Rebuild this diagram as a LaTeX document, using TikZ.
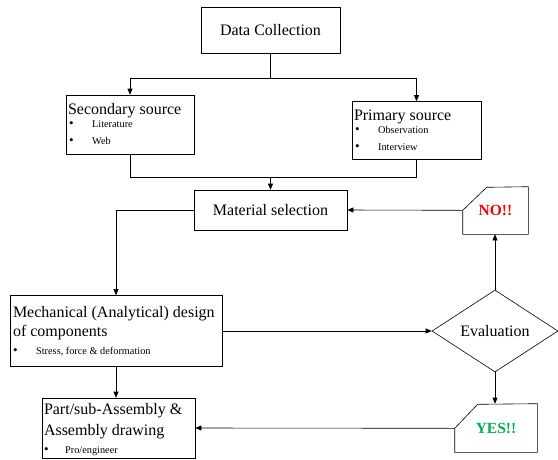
\documentclass[tikz,border=0pt]{standalone}
\usepackage{fontspec}
\setmainfont{Liberation Serif}
\usetikzlibrary{positioning,shapes.geometric,arrows.meta}
\definecolor{yesgreen}{RGB}{0,176,80}

\begin{document}
\begin{tikzpicture}[x=1pt, y=-1pt, line width=0.6pt,
  every node/.style={font=\fontsize{16}{18}\selectfont, inner sep=0pt},
  box/.style={draw, rectangle},
  head/.style={anchor=base west},
  item/.style={font=\fontsize{10.3}{12}\selectfont, anchor=base west},
  dot/.style={font=\fontsize{13}{14}\selectfont, anchor=base west},
  arr/.style={-{Triangle[length=6pt,width=5pt]}}]
  \useasboundingbox (0,0) rectangle (558,459);

  % boxes
  \node[box, minimum width=139pt, minimum height=46pt] (data) at (270.5,30) {Data Collection};
  \node[box, minimum width=128pt, minimum height=59pt] (sec) at (130,124.5) {};
  \node[box, minimum width=129pt, minimum height=58pt] (pri) at (416.5,130.5) {};
  \node[box, minimum width=153pt, minimum height=40pt] (mat) at (270.5,210) {Material selection};
  \node[box, minimum width=212pt, minimum height=71pt] (mech) at (116,331) {};
  \node[draw, diamond, minimum width=126pt, minimum height=82pt] (eval) at (495,331) {Evaluation};
  \node[box, minimum width=153pt, minimum height=60pt] (part) at (118.5,428) {};
  \node[minimum width=65pt, minimum height=47pt, text=red, font=\fontsize{15.5}{18}\selectfont\bfseries] (no) at (495.5,210.5) {NO!!};
  \node[minimum width=82pt, minimum height=48pt, text=yesgreen, font=\fontsize{15.5}{18}\selectfont\bfseries] (yes) at (496,428) {YES!!};
  \draw (no.south west) -- ++(0,-24) coordinate (no-cut) -- ++(24,-23) -- (no.north east) -- (no.south east) -- cycle;
  \draw (yes.south west) -- ++(0,-24) coordinate (yes-cut) -- ++(23,-24) -- (yes.north east) -- (yes.south east) -- cycle;

  % texts in boxes
  \node[head] (sec-h) at ([shift={(2,20)}]sec.north west) {Secondary source};
  \node[dot] (sec-b1) at ([shift={(3,33)}]sec.north west) {\textbullet};
  \node[item, base right=18pt of sec-b1] (sec-t1) {Literature};
  \node[dot] (sec-b2) at ([shift={(3,49.5)}]sec.north west) {\textbullet};
  \node[item, base right=18pt of sec-b2] (sec-t2) {Web};

  \node[head] (pri-h) at ([shift={(2,19)}]pri.north west) {Primary source};
  \node[dot] (pri-b1) at ([shift={(3,32)}]pri.north west) {\textbullet};
  \node[item, base right=18pt of pri-b1] (pri-t1) {Observation};
  \node[dot] (pri-b2) at ([shift={(3,49)}]pri.north west) {\textbullet};
  \node[item, base right=18pt of pri-b2] (pri-t2) {Interview};

  \node[head] (mech-h1) at ([shift={(3,22)}]mech.north west) {Mechanical (Analytical) design};
  \node[head] (mech-h2) at ([shift={(3,41)}]mech.north west) {of components};
  \node[dot] (mech-b1) at ([shift={(3,59)}]mech.north west) {\textbullet};
  \node[item, base right=18pt of mech-b1] (mech-t1) {Stress, force \& deformation};

  \node[head] (part-h1) at ([shift={(2,17)}]part.north west) {Part/sub-Assembly \&};
  \node[head] (part-h2) at ([shift={(2,38)}]part.north west) {Assembly drawing};
  \node[dot] (part-b1) at ([shift={(2,56)}]part.north west) {\textbullet};
  \node[item, base right=16pt of part-b1] (part-t1) {Pro/engineer};

  % connectors
  \draw (data.south) -- ++(0,25) coordinate (split);
  \draw[arr] (split) -| (sec.north);
  \draw[arr] (split) -| (pri.north);
  \draw (sec.south) -- ++(0,23) coordinate (merge) -| (pri.south);
  \draw[arr] (merge -| mat.north) -- (mat.north);
  \draw[arr] (mat.west) -| (mech.north);
  \draw[arr] (mech.east) -- (eval.west);
  \draw[arr] (eval.north) -- (eval.north |- no.south);
  \draw[arr] (no-cut) -- (mat.east);
  \draw[arr] (eval.south) -- (eval.south |- yes.north);
  \draw[arr] (yes-cut) -- (part.east);
  \draw[arr] (mech.south) -- (mech.south |- part.north);
\end{tikzpicture}
\end{document}
